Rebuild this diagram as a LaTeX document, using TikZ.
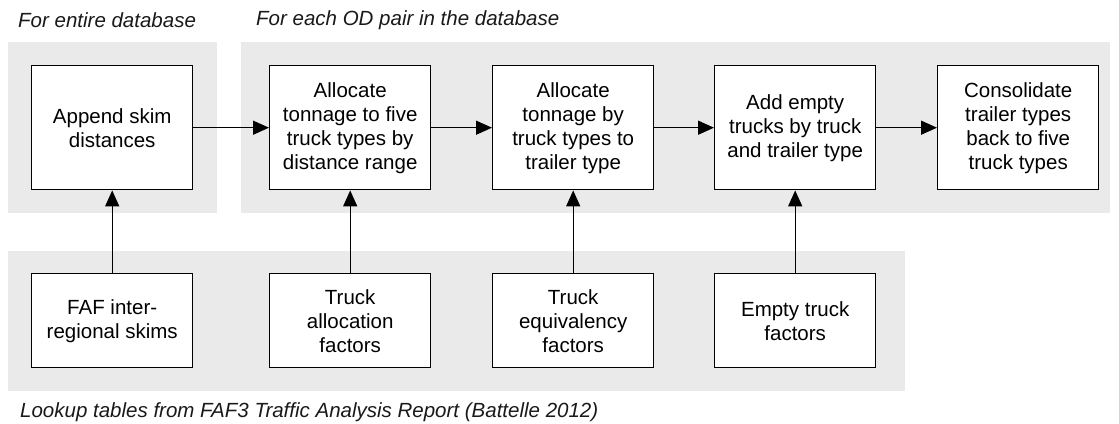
\documentclass[tikz,border=0pt]{standalone}
\usepackage{fontspec}
\setmainfont{Liberation Sans}
\usetikzlibrary{arrows.meta}
\definecolor{panel}{RGB}{234,234,234}
\begin{document}
\begin{tikzpicture}[x=1pt,y=-1pt,
  boxfont/.style={font=\fontsize{20.5}{24}\selectfont},
  proc/.style={boxfont, draw=black, line width=1.4pt, fill=white, minimum width=161pt, minimum height=124pt, align=center, inner sep=0pt, anchor=north west},
  src/.style={proc, minimum height=94pt},
  lbl/.style={font=\fontsize{20.5}{24}\selectfont\itshape, anchor=west, inner sep=0pt, text=black!90},
  arr/.style={line width=1.4pt, -{Triangle[length=16pt,width=14pt]}}]
\useasboundingbox (0,0) rectangle (1119,423);
% panels
\fill[panel] (8,42) rectangle (217,213);
\fill[panel] (241,42) rectangle (1110,213);
\fill[panel] (8,251) rectangle (905,391);
% labels
\node[lbl] (l1) at (18,20) {For entire database};
\node[lbl] (l2) at (256,20) {For each OD pair in the database};
\node[lbl] (l3) at (20,412) {Lookup tables from FAF3 Traffic Analysis Report (Battelle 2012)};
% process boxes
\node[proc] (b1) at (31,65) {Append skim\\distances};
\node[proc] (b2) at (269,65) {Allocate\\tonnage to five\\truck types by\\distance range};
\node[proc] (b3) at (492,65) {Allocate\\tonnage by\\truck types to\\trailer type};
\node[proc] (b4) at (714,65) {Add empty\\trucks by truck\\and trailer type};
\node[proc] (b5) at (937,65) {Consolidate\\trailer types\\back to five\\truck types};
% source boxes
\node[src] (s1) at (31,273) {FAF inter-\\regional skims};
\node[src] (s2) at (269,273) {Truck\\allocation\\factors};
\node[src] (s3) at (492,273) {Truck\\equivalency\\factors};
\node[src] (s4) at (714,273) {Empty truck\\factors};
% arrows
\draw[arr] (b1.east) -- (b2.west);
\draw[arr] (b2.east) -- (b3.west);
\draw[arr] (b3.east) -- (b4.west);
\draw[arr] (b4.east) -- (b5.west);
\draw[arr] (s1.north) -- (b1.south);
\draw[arr] (s2.north) -- (b2.south);
\draw[arr] (s3.north) -- (b3.south);
\draw[arr] (s4.north) -- (b4.south);
\end{tikzpicture}
\end{document}
